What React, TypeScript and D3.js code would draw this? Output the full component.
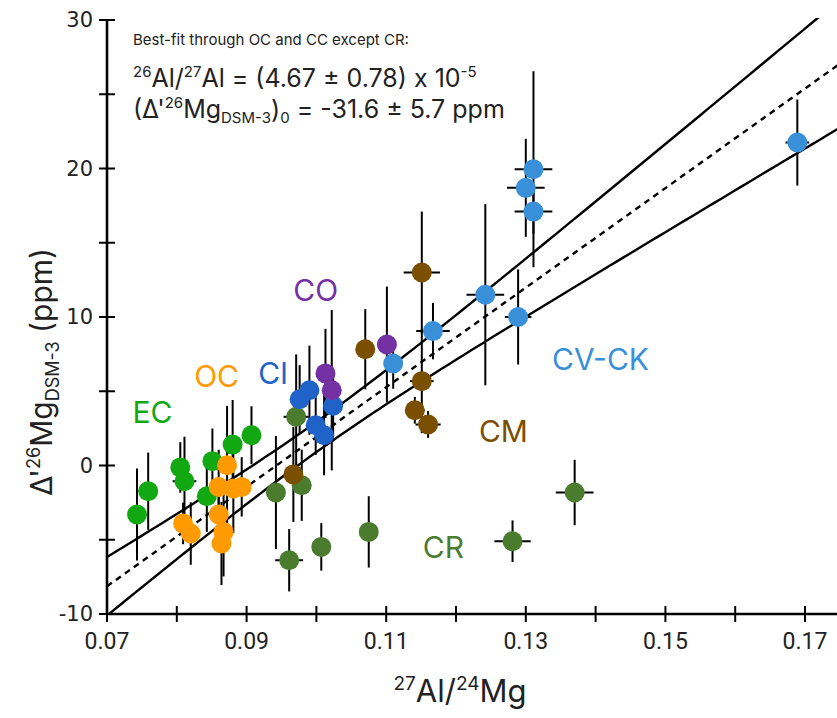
import React from "react";
import * as d3 from "d3";

// [x (27Al/24Mg), y (ppm), yErr, xErr]
type P = [number, number, number, number];

const EC: P[] = [
  [0.0743, -3.3, 3.1, 0],
  [0.0759, -1.73, 2.6, 0],
  [0.0805, -0.13, 1.7, 0],
  [0.0811, -1.06, 3.0, 0.0017],
  [0.0843, -2.07, 2.4, 0],
  [0.0851, 0.29, 2.2, 0],
  [0.088, 1.41, 3.0, 0],
  [0.0907, 2.04, 1.95, 0],
];
const OC: P[] = [
  [0.0872, 0.02, 4.0, 0],
  [0.086, -1.44, 2.5, 0],
  [0.0881, -1.55, 3.0, 0],
  [0.0893, -1.44, 2.0, 0],
  [0.086, -3.3, 2.2, 0],
  [0.0809, -3.9, 1.4, 0],
  [0.082, -4.58, 2.1, 0],
  [0.0867, -4.47, 3.0, 0],
  [0.0864, -5.25, 2.8, 0],
];
const CR: P[] = [
  [0.0971, 3.28, 4.2, 0.0018],
  [0.0942, -1.82, 3.8, 0],
  [0.0979, -1.33, 2.4, 0],
  [0.0961, -6.38, 2.1, 0.002],
  [0.1007, -5.48, 1.6, 0],
  [0.1075, -4.47, 2.4, 0],
  [0.1281, -5.1, 1.4, 0.0026],
  [0.137, -1.82, 2.2, 0.0027],
];
const CI: P[] = [
  [0.099, 5.07, 3.0, 0],
  [0.0976, 4.46, 2.3, 0],
  [0.1024, 4.02, 2.4, 0],
  [0.0999, 2.71, 2.0, 0],
  [0.1011, 2.04, 2.7, 0],
];
const CO: P[] = [
  [0.1013, 6.2, 3.0, 0],
  [0.1022, 5.07, 5.4, 0],
  [0.1101, 8.15, 3.9, 0.0012],
];
const CM: P[] = [
  [0.0967, -0.6, 3.2, 0],
  [0.107, 7.83, 2.7, 0],
  [0.1151, 13.0, 4.1, 0.0026],
  [0.1151, 5.68, 3.5, 0.0017],
  [0.1141, 3.72, 0.9, 0.0014],
  [0.116, 2.76, 0.9, 0.0018],
];
const CV: P[] = [
  [0.111, 6.87, 1.7, 0],
  [0.1167, 9.05, 1.9, 0.0024],
  [0.1242, 11.5, 6.1, 0.0027],
  [0.1289, 10.0, 3.2, 0.0019],
  [0.13, 18.7, 3.3, 0.0027],
  [0.1311, 19.95, 6.6, 0.0027],
  [0.1311, 17.1, 1.5, 0.0027],
  [0.1689, 21.75, 2.9, 0.0017],
];

const groups = [
  { name: "EC", data: EC, color: "#12a812", lx: 0.0765, ly: 3.6 },
  { name: "OC", data: OC, color: "#ff9a00", lx: 0.0857, ly: 6.0 },
  { name: "CR", data: CR, color: "#4b7c2e", lx: 0.1182, ly: -5.5 },
  { name: "CI", data: CI, color: "#1f63c9", lx: 0.0938, ly: 6.2 },
  { name: "CO", data: CO, color: "#7431a3", lx: 0.0999, ly: 11.8 },
  { name: "CM", data: CM, color: "#7a4f00", lx: 0.1268, ly: 2.3 },
  { name: "CV-CK", data: CV, color: "#3a90d8", lx: 0.1407, ly: 7.2 },
];

const xTicks = [0.07, 0.08, 0.09, 0.1, 0.11, 0.12, 0.13, 0.14, 0.15, 0.16, 0.17];
const xLabels = [0.07, 0.09, 0.11, 0.13, 0.15, 0.17];
const yTicks = [-10, -5, 0, 5, 10, 15, 20, 25, 30];
const yLabels = [-10, 0, 10, 20, 30];

// Best fit parameters
const ratio = 4.67e-5;
const ratioErr = 0.78e-5;
const intercept = -31.6;
const interceptErr = 5.7;
const mgRatio = 0.13932;
const corr = -0.984;

export default function App() {
  const W = 837, H = 718;
  const x = d3.scaleLinear().domain([0.07, 0.17]).range([107, 805]);
  const y = d3.scaleLinear().domain([-10, 30]).range([614, 20]);
  const slope = (ratio / mgRatio) * 1e6;
  const slopeErr = (ratioErr / mgRatio) * 1e6;
  const cov = corr * slopeErr * interceptErr;
  const xs = d3.range(0.07, 0.1801, 0.001);
  const fit = (v: number) => intercept + slope * v;
  const h = (v: number) =>
    Math.sqrt(interceptErr ** 2 + slopeErr ** 2 * v * v + 2 * v * cov);
  const mid = d3.line<number>().x((d) => x(d)).y((d) => y(fit(d)))(xs) as string;
  const up = d3.line<number>().x((d) => x(d)).y((d) => y(fit(d) + h(d)))(xs) as string;
  const lo = d3.line<number>().x((d) => x(d)).y((d) => y(fit(d) - h(d)))(xs) as string;

  const font = "Inter, 'Noto Sans', sans-serif";

  return (
    <svg width={W} height={H} style={{ position: "absolute", left: 0, top: 0 }}>
      <rect width={W} height={H} fill="#fff" />
      <defs>
        <clipPath id="plot">
          <rect x={107} y={18} width={W - 107} height={614 - 18} />
        </clipPath>
      </defs>
      {/* fit lines */}
      <g clipPath="url(#plot)" fill="none" stroke="#000" strokeWidth={2.4}>
        <path d={up} />
        <path d={lo} />
        <path d={mid} strokeDasharray="6,5" />
      </g>
      {/* error bars */}
      <g stroke="#000" strokeWidth={2}>
        {groups.map((g) =>
          g.data.map((d, i) => (
            <g key={g.name + i}>
              <line x1={x(d[0])} x2={x(d[0])} y1={y(d[1] - d[2])} y2={y(d[1] + d[2])} />
              {d[3] > 0 && (
                <line x1={x(d[0] - d[3])} x2={x(d[0] + d[3])} y1={y(d[1])} y2={y(d[1])} />
              )}
            </g>
          ))
        )}
      </g>
      {/* points */}
      {groups.map((g) =>
        g.data.map((d, i) => (
          <circle key={"c" + g.name + i} cx={x(d[0])} cy={y(d[1])} r={10} fill={g.color} />
        ))
      )}
      {/* group labels */}
      {groups.map((g) => (
        <text
          key={"l" + g.name}
          x={x(g.lx)}
          y={y(g.ly)}
          fill={g.color}
          fontFamily={font}
          fontSize={30}
          textAnchor="middle"
          dominantBaseline="central"
        >
          {g.name}
        </text>
      ))}
      {/* axes */}
      <g stroke="#000" strokeWidth={2.6}>
        <line x1={107} x2={107} y1={y(30)} y2={y(-10)} />
        <line x1={106} x2={W} y1={y(-10)} y2={y(-10)} />
      </g>
      <g stroke="#000" strokeWidth={2}>
        {yTicks.map((t) => (
          <line key={"yt" + t} x1={99} x2={115} y1={y(t)} y2={y(t)} />
        ))}
        {xTicks.map((t) => (
          <line key={"xt" + t} x1={x(t)} x2={x(t)} y1={606} y2={622} />
        ))}
      </g>
      {yLabels.map((t) => (
        <text
          key={"yl" + t}
          x={93}
          y={y(t)}
          textAnchor="end"
          dominantBaseline="central"
          fontFamily="'DejaVu Sans', sans-serif"
          fontSize={21}
          fill="#222"
        >
          {t}
        </text>
      ))}
      {xLabels.map((t) => (
        <text
          key={"xl" + t}
          x={x(t)}
          y={641}
          textAnchor="middle"
          dominantBaseline="central"
          fontFamily="Roboto, sans-serif"
          fontSize={23}
          fill="#222"
        >
          {d3.format(".2f")(t)}
        </text>
      ))}
      {/* axis titles */}
      <text x={460} y={702} textAnchor="middle" fontFamily={font} fontSize={31} fill="#222">
        <tspan fontSize={19} dy={-12}>27</tspan>
        <tspan dy={12}>Al/</tspan>
        <tspan fontSize={19} dy={-12}>24</tspan>
        <tspan dy={12}>Mg</tspan>
      </text>
      <text
        transform="translate(52,372) rotate(-90)"
        textAnchor="middle"
        fontFamily={font}
        fontSize={30}
        fill="#222"
      >
        <tspan>Δ'</tspan>
        <tspan fontSize={18} dy={-12}>26</tspan>
        <tspan dy={12}>Mg</tspan>
        <tspan fontSize={18} dy={7}>DSM-3</tspan>
        <tspan dy={-7}> (ppm)</tspan>
      </text>
      {/* annotation */}
      <text x={133} y={45} fontFamily={font} fontSize={15} fill="#222">
        Best-fit through OC and CC except CR:
      </text>
      <text x={133} y={87} fontFamily={font} fontSize={25} fill="#222">
        <tspan fontSize={15} dy={-10}>26</tspan>
        <tspan dy={10}>Al/</tspan>
        <tspan fontSize={15} dy={-10}>27</tspan>
        <tspan dy={10}>Al = (4.67 ± 0.78) x 10</tspan>
        <tspan fontSize={15} dy={-10}>-5</tspan>
      </text>
      <text x={133} y={118} fontFamily={font} fontSize={25} fill="#222">
        <tspan>(Δ'</tspan>
        <tspan fontSize={15} dy={-10}>26</tspan>
        <tspan dy={10}>Mg</tspan>
        <tspan fontSize={15} dy={5}>DSM-3</tspan>
        <tspan dy={-5}>)</tspan>
        <tspan fontSize={15} dy={5}>0</tspan>
        <tspan dy={-5}> = -31.6 ± 5.7 ppm</tspan>
      </text>
    </svg>
  );
}
